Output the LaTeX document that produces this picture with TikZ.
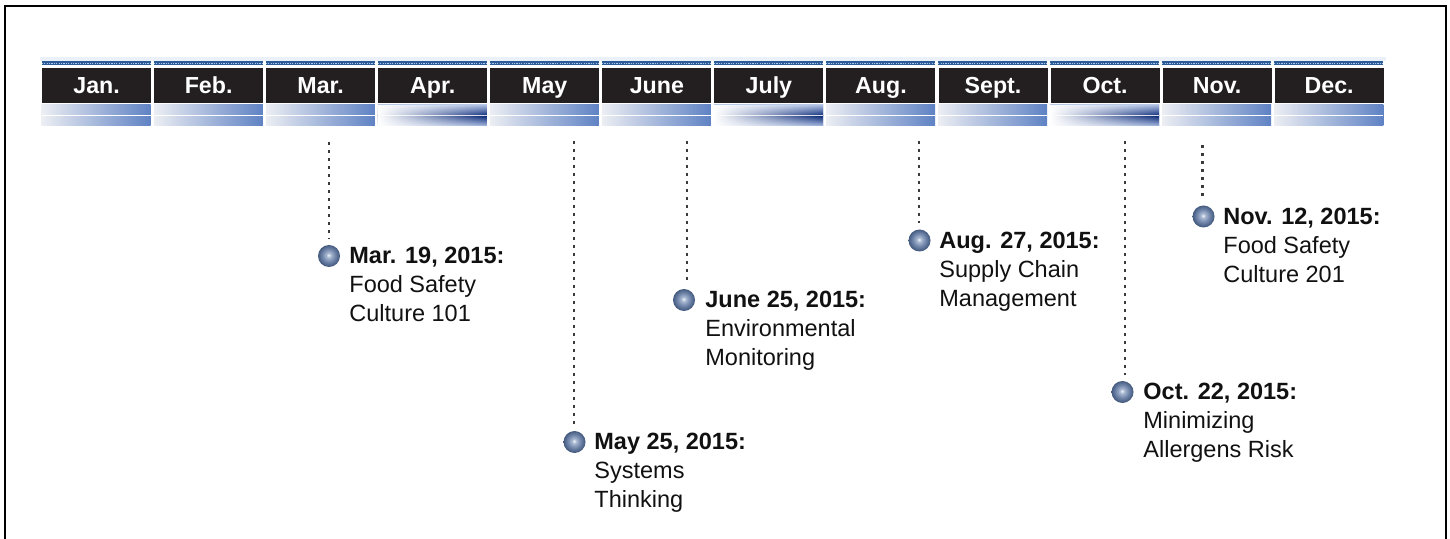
\documentclass[tikz,border=0pt]{standalone}
\usepackage{fontspec}
\setmainfont{Liberation Sans}
\usetikzlibrary{fadings}
\definecolor{monthblack}{HTML}{231F20}
\definecolor{stripblue}{HTML}{2E5C9A}
\definecolor{stripdot}{HTML}{A8C8EC}
\definecolor{barlight}{HTML}{ECEEF3}
\definecolor{barblue}{HTML}{5F82C4}
\definecolor{navy}{HTML}{0B2A78}
\definecolor{navylight}{HTML}{A9BBE0}
\definecolor{dotgray}{HTML}{3A3A3A}
\definecolor{textblack}{HTML}{111111}
\definecolor{glow}{HTML}{DCE7F4}
\definecolor{ballhi}{HTML}{F4F6FA}
\definecolor{ballmid}{HTML}{A9B9D2}
\definecolor{ballbody}{HTML}{7489AD}
\definecolor{ballrim}{HTML}{41577C}
\pgfdeclareradialshading{evball}{\pgfpoint{-1bp}{2bp}}{%
  color(0bp)=(ballhi);
  color(5bp)=(ballmid);
  color(14bp)=(ballbody);
  color(25bp)=(ballrim);
  color(50bp)=(ballrim)}
\begin{document}
\begin{tikzpicture}[x=0.5pt,y=-0.5pt,
  month/.style={fill=monthblack, text=white,
    font=\fontsize{11.6}{13}\selectfont\bfseries,
    minimum width=54.5pt, minimum height=17.5pt, inner sep=0pt,
    text height=0.716em, text depth=0pt, anchor=north west},
  ev/.style={circle, minimum size=11pt, inner sep=0pt, shading=evball},
  evtext/.style={anchor=north west, inner sep=0pt, align=left, text=textblack,
    font=\fontsize{11.75}{14.5}\selectfont},
  conn/.style={draw=dotgray, line width=1.3pt, dash pattern=on 1.3pt off 2.7pt, shorten >=3pt},
  frame/.style={draw=black, line width=1pt}]
\useasboundingbox (0,0) rectangle (1450,539);
\draw[frame] (4.5,560) -- (4.5,6.5) -- (1445.5,6.5) -- (1445.5,560);
\fill[glow, opacity=0.6] (40,57) rectangle (1386,61);
% months
\foreach \m [count=\i from 0] in {Jan.,Feb.,Mar.,Apr.,May,June,July,Aug.,Sept.,Oct.,Nov.,Dec.}{
  \pgfmathsetmacro\xl{41.7+112.05*\i}
  \pgfmathsetmacro\xr{\xl+109}
  \node[month] (m\i) at (\xl,68) {\m};
  \fill[stripblue] (\xl,61) rectangle (\xr,65.5);
  \draw[stripdot, line width=0.6pt, dash pattern=on 0.6pt off 0.6pt] (\xl,63.3) -- (\xr,63.3);
  \shade[left color=barlight, right color=barblue] (\xl,105) rectangle (\xr,126);
  \draw[white, line width=0.6pt] (\xl,115.8) -- (\xr,115.8);
}
% highlighted months
\foreach \i in {3,6,9}{
  \pgfmathsetmacro\xl{41.7+112.05*\i}
  \pgfmathsetmacro\xr{\xl+109}
  \shade[top color=navylight, bottom color=navy] (\xl,105) rectangle (\xr,115.5);
  \shade[top color=navy, bottom color=navylight] (\xl,116) rectangle (\xr,126);
  \fill[white, path fading=east] (\xl,105) rectangle (\xr,126);
  \draw[white, opacity=0.85, line width=0.7pt] (\xl+4,115.8) -- (\xr,115.8);
}
% events
\node[ev] (e1) at (329,256) {};
\node[evtext] (l1) at (349,247) {\textbf{Mar. 19, 2015:}\\Food Safety\\Culture 101};
\coordinate (t1) at (329,142);
\draw[conn] (t1) -- (t1 |- e1.north);

\node[ev] (e2) at (574.5,442) {};
\node[evtext] (l2) at (594,433) {\textbf{May 25, 2015:}\\Systems\\Thinking};
\coordinate (t2) at (574,141);
\draw[conn] (t2) -- (t2 |- e2.north);

\node[ev] (e3) at (684,300) {};
\node[evtext] (l3) at (705,291) {\textbf{June 25, 2015:}\\Environmental\\Monitoring};
\coordinate (t3) at (687,141);
\draw[conn] (t3) -- (t3 |- e3.north);

\node[ev] (e4) at (919.5,240.5) {};
\node[evtext] (l4) at (939,231.5) {\textbf{Aug. 27, 2015:}\\Supply Chain\\Management};
\coordinate (t4) at (919,141);
\draw[conn] (t4) -- (t4 |- e4.north);

\node[ev] (e5) at (1122.5,392) {};
\node[evtext] (l5) at (1143,382.5) {\textbf{Oct. 22, 2015:}\\Minimizing\\Allergens Risk};
\coordinate (t5) at (1125,141);
\draw[conn] (t5) -- (t5 |- e5.north);

\node[ev] (e6) at (1203.5,216.5) {};
\node[evtext] (l6) at (1223,208) {\textbf{Nov. 12, 2015:}\\Food Safety\\Culture 201};
\coordinate (t6) at (1202.5,145);
\draw[conn] (t6) -- (t6 |- e6.north);
\end{tikzpicture}
\end{document}
